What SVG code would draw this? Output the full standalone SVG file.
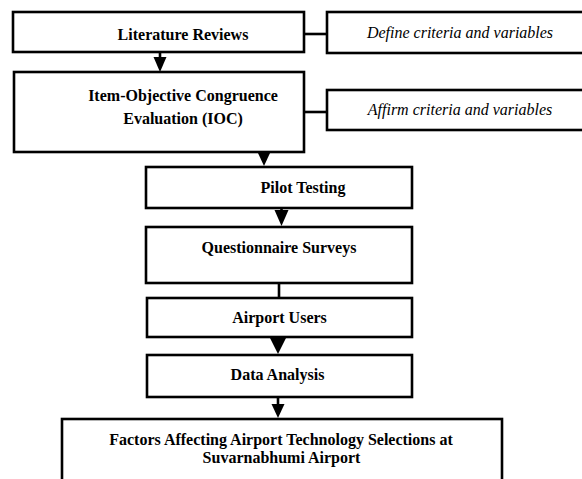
<svg xmlns="http://www.w3.org/2000/svg" width="582" height="479" viewBox="0 0 582 479">
<style>
.box{fill:#fff;stroke:#000;stroke-width:2.6}
.t{font-family:"Liberation Serif","Times New Roman",serif;font-weight:bold;font-size:16px;text-anchor:middle;fill:#000}
.i{font-family:"Liberation Serif","Times New Roman",serif;font-style:italic;font-size:16px;text-anchor:middle;fill:#000}
.ln{stroke:#000;stroke-width:2.6;fill:none}
.ah{fill:#000}
</style>
<rect width="582" height="479" fill="#fff"/>
<g id="connectors">
<line class="ln" x1="304" y1="34" x2="327" y2="34"/>
<line class="ln" x1="304" y1="112" x2="327" y2="112"/>
<line class="ln" x1="160" y1="52" x2="160" y2="60"/>
<polygon class="ah" points="153.5,57 166.5,57 160,72"/>
<polygon class="ah" points="257.5,152 270.5,152 264,166"/>
<line class="ln" x1="281.5" y1="208" x2="281.5" y2="212"/>
<polygon class="ah" points="274.5,210 288.5,210 281.5,226"/>
<line class="ln" x1="279" y1="283" x2="279" y2="298"/>
<polygon class="ah" points="270,338 286,338 278,354"/>
<line class="ln" x1="278" y1="397" x2="278" y2="407"/>
<polygon class="ah" points="271.5,404 284.5,404 278,418"/>
</g>
<g id="literature-reviews">
<rect class="box" x="13" y="12" width="291" height="40"/>
<text class="t" x="183" y="39.5">Literature Reviews</text>
</g>
<g id="define-criteria">
<rect class="box" x="327" y="12" width="265" height="41"/>
<text class="i" x="460" y="38">Define criteria and variables</text>
</g>
<g id="ioc">
<rect class="box" x="14" y="72" width="290" height="80"/>
<text class="t" x="183" y="101">Item-Objective Congruence</text>
<text class="t" x="183" y="124">Evaluation (IOC)</text>
</g>
<g id="affirm-criteria">
<rect class="box" x="327" y="90" width="265" height="40"/>
<text class="i" x="460" y="115">Affirm criteria and variables</text>
</g>
<g id="pilot-testing">
<rect class="box" x="146" y="167" width="266" height="41"/>
<text class="t" x="303" y="193">Pilot Testing</text>
</g>
<g id="questionnaire-surveys">
<rect class="box" x="146" y="227" width="266" height="56"/>
<text class="t" x="279" y="253">Questionnaire Surveys</text>
</g>
<g id="airport-users">
<rect class="box" x="147" y="298" width="265" height="39"/>
<text class="t" x="279.5" y="323">Airport Users</text>
</g>
<g id="data-analysis">
<rect class="box" x="147" y="355" width="265" height="42"/>
<text class="t" x="277.5" y="380">Data Analysis</text>
</g>
<g id="factors">
<rect class="box" x="62" y="419" width="440" height="70"/>
<text class="t" x="281" y="445">Factors Affecting Airport Technology Selections at</text>
<text class="t" x="281.5" y="463">Suvarnabhumi Airport</text>
</g>
</svg>
